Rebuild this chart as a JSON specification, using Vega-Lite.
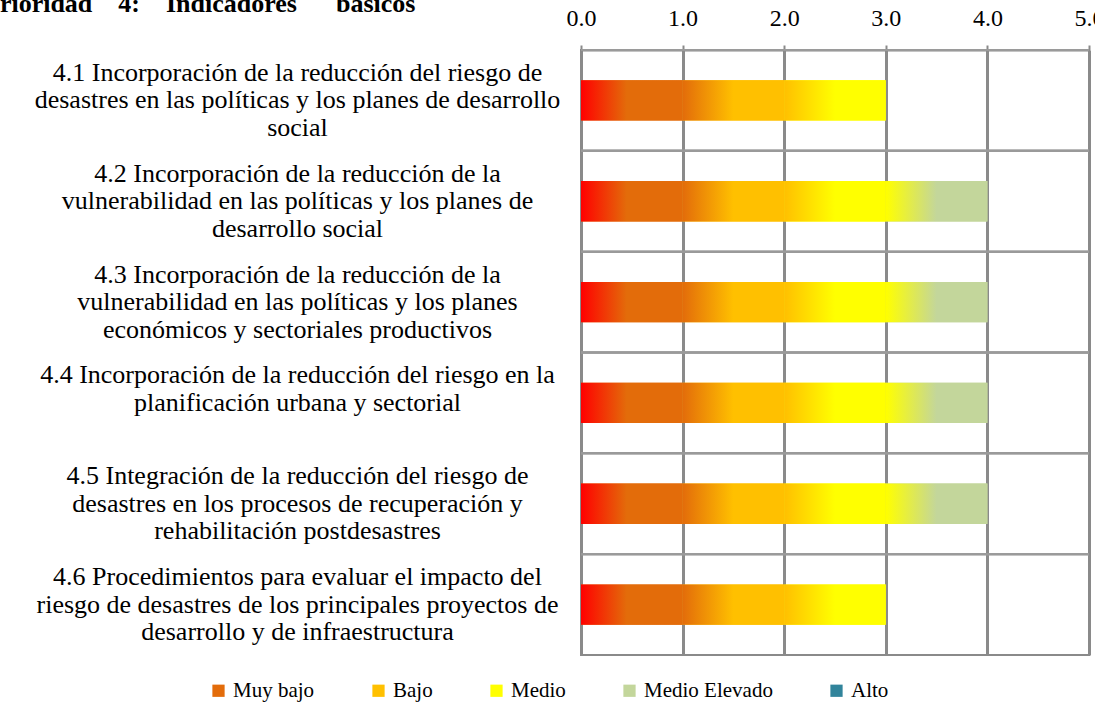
{
  "$schema": "https://vega.github.io/schema/vega-lite/v6.json",
  "width": 508,
  "height": 605,
  "autosize": {"type": "none"},
  "padding": {"left": 581, "top": 50, "right": 6, "bottom": 56},
  "background": "white",
  "title": {
    "text": "Prioridad \u00a0\u00a0\u00a04: \u00a0\u00a0\u00a0Indicadores \u00a0\u00a0\u00a0\u00a0\u00a0básicos",
    "anchor": "start",
    "frame": "group",
    "font": "Times New Roman, Liberation Serif, serif",
    "fontSize": 26,
    "fontWeight": "bold",
    "color": "black",
    "baseline": "alphabetic",
    "offset": 0,
    "dx": -597,
    "dy": 32
  },
  "config": {
    "view": {"stroke": "#8a8a8a", "strokeWidth": 2},
    "font": "Times New Roman, Liberation Serif, serif"
  },
  "data": {
    "values": [
      {"indicador": "4.1 Incorporación de la reducción del riesgo de|desastres en las políticas y los planes de desarrollo|social", "nivel": "Muy bajo", "inicio": 0, "fin": 1},
      {"indicador": "4.1 Incorporación de la reducción del riesgo de|desastres en las políticas y los planes de desarrollo|social", "nivel": "Bajo", "inicio": 1, "fin": 2},
      {"indicador": "4.1 Incorporación de la reducción del riesgo de|desastres en las políticas y los planes de desarrollo|social", "nivel": "Medio", "inicio": 2, "fin": 3},
      {"indicador": "4.2 Incorporación de la reducción de la|vulnerabilidad en las políticas y los planes de|desarrollo social", "nivel": "Muy bajo", "inicio": 0, "fin": 1},
      {"indicador": "4.2 Incorporación de la reducción de la|vulnerabilidad en las políticas y los planes de|desarrollo social", "nivel": "Bajo", "inicio": 1, "fin": 2},
      {"indicador": "4.2 Incorporación de la reducción de la|vulnerabilidad en las políticas y los planes de|desarrollo social", "nivel": "Medio", "inicio": 2, "fin": 3},
      {"indicador": "4.2 Incorporación de la reducción de la|vulnerabilidad en las políticas y los planes de|desarrollo social", "nivel": "Medio Elevado", "inicio": 3, "fin": 4},
      {"indicador": "4.3 Incorporación de la reducción de la|vulnerabilidad en las políticas y los planes|económicos y sectoriales productivos", "nivel": "Muy bajo", "inicio": 0, "fin": 1},
      {"indicador": "4.3 Incorporación de la reducción de la|vulnerabilidad en las políticas y los planes|económicos y sectoriales productivos", "nivel": "Bajo", "inicio": 1, "fin": 2},
      {"indicador": "4.3 Incorporación de la reducción de la|vulnerabilidad en las políticas y los planes|económicos y sectoriales productivos", "nivel": "Medio", "inicio": 2, "fin": 3},
      {"indicador": "4.3 Incorporación de la reducción de la|vulnerabilidad en las políticas y los planes|económicos y sectoriales productivos", "nivel": "Medio Elevado", "inicio": 3, "fin": 4},
      {"indicador": "4.4 Incorporación de la reducción del riesgo en la|planificación urbana y sectorial", "nivel": "Muy bajo", "inicio": 0, "fin": 1},
      {"indicador": "4.4 Incorporación de la reducción del riesgo en la|planificación urbana y sectorial", "nivel": "Bajo", "inicio": 1, "fin": 2},
      {"indicador": "4.4 Incorporación de la reducción del riesgo en la|planificación urbana y sectorial", "nivel": "Medio", "inicio": 2, "fin": 3},
      {"indicador": "4.4 Incorporación de la reducción del riesgo en la|planificación urbana y sectorial", "nivel": "Medio Elevado", "inicio": 3, "fin": 4},
      {"indicador": "4.5 Integración de la reducción del riesgo de|desastres en los procesos de recuperación y|rehabilitación postdesastres", "nivel": "Muy bajo", "inicio": 0, "fin": 1},
      {"indicador": "4.5 Integración de la reducción del riesgo de|desastres en los procesos de recuperación y|rehabilitación postdesastres", "nivel": "Bajo", "inicio": 1, "fin": 2},
      {"indicador": "4.5 Integración de la reducción del riesgo de|desastres en los procesos de recuperación y|rehabilitación postdesastres", "nivel": "Medio", "inicio": 2, "fin": 3},
      {"indicador": "4.5 Integración de la reducción del riesgo de|desastres en los procesos de recuperación y|rehabilitación postdesastres", "nivel": "Medio Elevado", "inicio": 3, "fin": 4},
      {"indicador": "4.6 Procedimientos para evaluar el impacto del|riesgo de desastres de los principales proyectos de|desarrollo y de infraestructura", "nivel": "Muy bajo", "inicio": 0, "fin": 1},
      {"indicador": "4.6 Procedimientos para evaluar el impacto del|riesgo de desastres de los principales proyectos de|desarrollo y de infraestructura", "nivel": "Bajo", "inicio": 1, "fin": 2},
      {"indicador": "4.6 Procedimientos para evaluar el impacto del|riesgo de desastres de los principales proyectos de|desarrollo y de infraestructura", "nivel": "Medio", "inicio": 2, "fin": 3}
    ]
  },
  "encoding": {
    "y": {
      "field": "indicador",
      "type": "nominal",
      "sort": null,
      "scale": {"paddingInner": 0, "paddingOuter": 0},
      "axis": {
        "title": null,
        "orient": "left",
        "domain": false,
        "ticks": false,
        "grid": false,
        "labelAlign": "center",
        "labelBaseline": "middle",
        "labelPadding": 284,
        "labelOffset": -27.5,
        "labelFont": "Times New Roman, Liberation Serif, serif",
        "labelFontSize": 26,
        "labelLineHeight": 27.5,
        "labelColor": "black",
        "labelLimit": 0,
        "labelExpr": "split(datum.label, '|')"
      }
    }
  },
  "layer": [
    {
      "mark": {"type": "rule", "color": "#9a9a9a", "strokeWidth": 2},
      "encoding": {
        "y": {
          "field": "indicador",
          "type": "nominal",
          "sort": null,
          "bandPosition": 0,
          "scale": {"paddingInner": 0, "paddingOuter": 0},
          "axis": {
            "title": null,
            "orient": "left",
            "domain": false,
            "ticks": false,
            "grid": false,
            "labelAlign": "center",
            "labelBaseline": "middle",
            "labelPadding": 284,
            "labelOffset": -27.5,
            "labelFont": "Times New Roman, Liberation Serif, serif",
            "labelFontSize": 26,
            "labelLineHeight": 27.5,
            "labelColor": "black",
            "labelLimit": 0,
            "labelExpr": "split(datum.label, '|')"
          }
        }
      }
    },
    {
      "mark": {"type": "bar", "height": {"band": 0.4}},
      "encoding": {
        "x": {
          "field": "inicio",
          "type": "quantitative",
          "scale": {"domain": [0, 5], "nice": false},
          "axis": {
            "title": null,
            "orient": "top",
            "values": [0, 1, 2, 3, 4, 5],
            "grid": true,
            "gridColor": "#8a8a8a",
            "gridWidth": 3,
            "domain": true,
            "domainColor": "#8a8a8a",
            "domainWidth": 2,
            "ticks": true,
            "tickSize": 5,
            "tickColor": "#8a8a8a",
            "tickWidth": 2,
            "labelFont": "Times New Roman, Liberation Serif, serif",
            "labelFontSize": 24,
            "labelColor": "black",
            "labelPadding": 15,
            "labelFlush": false
          }
        },
        "x2": {"field": "fin"},
        "color": {
          "field": "nivel",
          "type": "nominal",
          "scale": {
            "domain": ["Muy bajo", "Bajo", "Medio", "Medio Elevado", "Alto"],
            "range": ["#E36C0A", "#FFC000", "#FFFF00", "#C3D69B", "#31849B"]
          },
          "legend": {
            "title": null,
            "orient": "none",
            "direction": "horizontal",
            "legendX": -373,
            "legendY": 630,
            "symbolType": "square",
            "symbolSize": 150,
            "symbolStrokeWidth": 0,
            "labelFont": "Times New Roman, Liberation Serif, serif",
            "labelFontSize": 21,
            "labelColor": "black",
            "labelOffset": 4,
            "columnPadding": 53
          }
        }
      }
    },
    {
      "transform": [{"filter": "datum.nivel === 'Muy bajo'"}],
      "mark": {
        "type": "bar",
        "height": {"band": 0.4},
        "color": {"gradient": "linear", "x1": 0, "y1": 0, "x2": 1, "y2": 0,
          "stops": [{"offset": 0, "color": "#FF0000"}, {"offset": 0.45, "color": "#E36C0A"}, {"offset": 1, "color": "#E36C0A"}]}
      },
      "encoding": {"x": {"field": "inicio", "type": "quantitative"}, "x2": {"field": "fin"}}
    },
    {
      "transform": [{"filter": "datum.nivel === 'Bajo'"}],
      "mark": {
        "type": "bar",
        "height": {"band": 0.4},
        "color": {"gradient": "linear", "x1": 0, "y1": 0, "x2": 1, "y2": 0,
          "stops": [{"offset": 0, "color": "#E36C0A"}, {"offset": 0.5, "color": "#FFC000"}, {"offset": 1, "color": "#FFC000"}]}
      },
      "encoding": {"x": {"field": "inicio", "type": "quantitative"}, "x2": {"field": "fin"}}
    },
    {
      "transform": [{"filter": "datum.nivel === 'Medio'"}],
      "mark": {
        "type": "bar",
        "height": {"band": 0.4},
        "color": {"gradient": "linear", "x1": 0, "y1": 0, "x2": 1, "y2": 0,
          "stops": [{"offset": 0, "color": "#FFC000"}, {"offset": 0.5, "color": "#FFFF00"}, {"offset": 1, "color": "#FFFF00"}]}
      },
      "encoding": {"x": {"field": "inicio", "type": "quantitative"}, "x2": {"field": "fin"}}
    },
    {
      "transform": [{"filter": "datum.nivel === 'Medio Elevado'"}],
      "mark": {
        "type": "bar",
        "height": {"band": 0.4},
        "color": {"gradient": "linear", "x1": 0, "y1": 0, "x2": 1, "y2": 0,
          "stops": [{"offset": 0, "color": "#FFFF00"}, {"offset": 0.5, "color": "#C3D69B"}, {"offset": 1, "color": "#C3D69B"}]}
      },
      "encoding": {"x": {"field": "inicio", "type": "quantitative"}, "x2": {"field": "fin"}}
    }
  ]
}
